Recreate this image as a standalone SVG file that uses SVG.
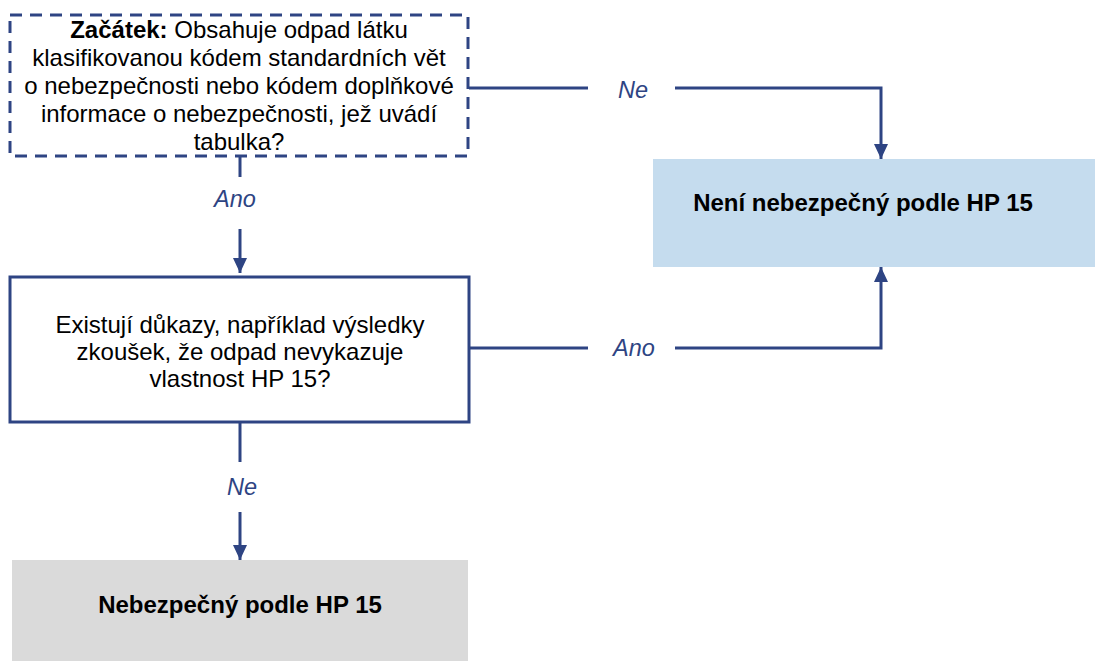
<svg xmlns="http://www.w3.org/2000/svg" width="1095" height="661" viewBox="0 0 1095 661">
  <defs>
    <marker id="arrow" viewBox="0 0 15 14" refX="15" refY="7" markerWidth="5" markerHeight="4.67" markerUnits="strokeWidth" orient="auto">
      <path d="M0,0 L15,7 L0,14 z" fill="#2E4483"/>
    </marker>
    <style>
      .txt { font-family: "Liberation Sans", Arial, sans-serif; font-size: 24px; fill: #000; text-anchor: middle; }
      .bold { font-weight: bold; }
      .lbl { font-family: "Liberation Sans", Arial, sans-serif; font-size: 23.5px; font-style: italic; fill: #2E4483; text-anchor: middle; }
      .conn { fill: none; stroke: #2E4483; stroke-width: 3; }
      .box { fill: #fff; stroke: #2E4483; stroke-width: 3; }
    </style>
  </defs>
  <rect width="1095" height="661" fill="#fff"/>

  <!-- connectors -->
  <g id="connectors">
    <path class="conn" d="M240,156 V177"/>
    <path class="conn" d="M240,229 V273" marker-end="url(#arrow)"/>
    <path class="conn" d="M469,88 H588"/>
    <path class="conn" d="M675,88 H881 V159" marker-end="url(#arrow)"/>
    <path class="conn" d="M469,348 H588"/>
    <path class="conn" d="M675,348 H881 V267" marker-end="url(#arrow)"/>
    <path class="conn" d="M240,423 V462"/>
    <path class="conn" d="M240,512 V560" marker-end="url(#arrow)"/>
    <text class="lbl" x="235" y="207">Ano</text>
    <text class="lbl" x="633" y="98">Ne</text>
    <text class="lbl" x="634" y="356">Ano</text>
    <text class="lbl" x="242" y="495">Ne</text>
  </g>

  <!-- start question -->
  <g id="start">
    <rect class="box" x="10" y="15" width="458" height="141" stroke-dasharray="12,8"/>
    <text class="txt" x="239" y="38"><tspan class="bold">Začátek:</tspan> Obsahuje odpad látku</text>
    <text class="txt" x="239" y="66">klasifikovanou kódem standardních vět</text>
    <text class="txt" x="239" y="94">o nebezpečnosti nebo kódem doplňkové</text>
    <text class="txt" x="239" y="122">informace o nebezpečnosti, jež uvádí</text>
    <text class="txt" x="239" y="150">tabulka?</text>
  </g>

  <!-- evidence question -->
  <g id="evidence">
    <rect class="box" x="10" y="277" width="459" height="145"/>
    <text class="txt" x="240" y="333">Existují důkazy, například výsledky</text>
    <text class="txt" x="240" y="360">zkoušek, že odpad nevykazuje</text>
    <text class="txt" x="240" y="387">vlastnost HP 15?</text>
  </g>

  <!-- not hazardous -->
  <g id="not-hazardous">
    <rect x="653" y="159" width="442" height="108" fill="#C5DCEE"/>
    <text class="txt bold" x="863" y="211">Není nebezpečný podle HP 15</text>
  </g>

  <!-- hazardous -->
  <g id="hazardous">
    <rect x="12" y="560" width="456" height="101" fill="#DADADA"/>
    <text class="txt bold" x="240" y="613">Nebezpečný podle HP 15</text>
  </g>
</svg>
